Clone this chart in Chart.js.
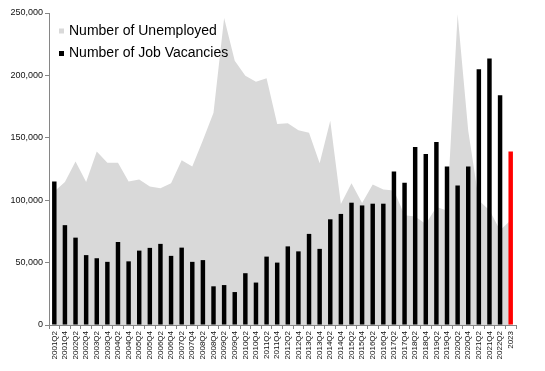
<!DOCTYPE html>
<html>
<head>
    <title>Unemployed and Job Vacancies</title>
    <script src="https://cdn.jsdelivr.net/npm/chart.js"></script>
    <style>
        body { margin: 0; background: #fff; }
    </style>
</head>
<body>
    <canvas id="chart" width="545" height="371"></canvas>

    <script>
        const periods = ['2001Q2', '2001Q4', '2002Q2', '2002Q4', '2003Q2', '2003Q4', '2004Q2', '2004Q4',
            '2005Q2', '2005Q4', '2006Q2', '2006Q4', '2007Q2', '2007Q4', '2008Q2', '2008Q4',
            '2009Q2', '2009Q4', '2010Q2', '2010Q4', '2011Q2', '2011Q4', '2012Q2', '2012Q4',
            '2013Q2', '2013Q4', '2014Q2', '2014Q4', '2015Q2', '2015Q4', '2016Q2', '2016Q4',
            '2017Q2', '2017Q4', '2018Q2', '2018Q4', '2019Q2', '2019Q4', '2020Q2', '2020Q4',
            '2021Q2', '2021Q4', '2022Q2', '2023'];

        const unemployed = [107000, 114500, 131000, 114500, 139000, 130000, 130000, 115000,
            116500, 111000, 109500, 113500, 132000, 127000, 148000, 170000,
            246000, 211700, 199700, 195000, 197800, 161000, 161600, 156000,
            154000, 129600, 163700, 97000, 113600, 97700, 112600, 108600,
            107800, 87900, 87000, 81000, 94500, 91800, 249000, 155700,
            99800, 92000, 75900, 83900];

        const vacancies = [115000, 80000, 70000, 56000, 53500, 50600, 66500, 51000,
            59600, 61800, 65000, 55400, 62000, 50600, 52000, 31000,
            32000, 26400, 41500, 34000, 54800, 50000, 63000, 59000,
            73000, 61000, 84700, 89000, 98000, 95800, 97200, 97200,
            123000, 114000, 142700, 137000, 146700, 127000, 111800, 127000,
            205000, 213500, 184000, 139000];

        const yTicks = [0, 50000, 100000, 150000, 200000, 250000];

        const FONT = '"Liberation Sans", Arial, sans-serif';
        const AXIS = '#868686';

        // last bar (2023) is highlighted in red
        const barColors = periods.map((p, i) => i === periods.length - 1 ? '#ff0000' : '#000000');

        // legend sits inside the plot, top left
        const insideLegend = {
            id: 'insideLegend',
            afterDraw(chart) {
                const ctx = chart.ctx;
                const left = chart.chartArea.left;
                const rows = [
                    { text: chart.data.datasets[0].label, color: '#d9d9d9', y: 31 },
                    { text: chart.data.datasets[1].label, color: '#000000', y: 53.5 }
                ];
                ctx.save();
                ctx.font = '14px ' + FONT;
                ctx.textBaseline = 'middle';
                ctx.fillStyle = '#000';
                rows.forEach(r => {
                    ctx.fillStyle = r.color;
                    ctx.fillRect(left + 10, r.y - 2.5, 5, 5);
                    ctx.fillStyle = '#000';
                    ctx.fillText(r.text, left + 20, r.y);
                });
                ctx.restore();
            }
        };

        const ctx = document.getElementById('chart').getContext('2d');
        const chart = new Chart(ctx, {
            type: 'bar',
            data: {
                labels: periods,
                datasets: [{
                    type: 'line',
                    label: 'Number of Unemployed',
                    data: unemployed,
                    fill: 'origin',
                    backgroundColor: '#d9d9d9',
                    borderWidth: 0,
                    borderColor: 'rgba(0,0,0,0)',
                    pointRadius: 0,
                    tension: 0,
                    order: 2
                }, {
                    label: 'Number of Job Vacancies',
                    data: vacancies,
                    backgroundColor: barColors,
                    barPercentage: 0.42,
                    categoryPercentage: 1,
                    order: 1
                }]
            },
            options: {
                responsive: false,
                animation: false,
                layout: { padding: { top: 13, right: 29, left: 0, bottom: 0 } },
                plugins: {
                    legend: { display: false },
                    tooltip: { enabled: false }
                },
                scales: {
                    x: {
                        offset: true,
                        grid: {
                            offset: true,
                            drawOnChartArea: false,
                            tickLength: 4,
                            color: AXIS
                        },
                        border: { color: AXIS },
                        ticks: {
                            autoSkip: false,
                            minRotation: 90,
                            maxRotation: 90,
                            padding: 2,
                            color: '#111',
                            font: { family: FONT, size: 8 }
                        },
                        afterFit(scale) { scale.height = 46; }
                    },
                    y: {
                        min: yTicks[0],
                        max: yTicks[yTicks.length - 1],
                        grid: {
                            drawOnChartArea: false,
                            tickLength: 4,
                            color: AXIS
                        },
                        border: { color: AXIS },
                        afterBuildTicks(scale) {
                            scale.ticks = yTicks.map(v => ({ value: v }));
                        },
                        ticks: {
                            padding: 2,
                            color: '#111',
                            font: { family: FONT, size: 9 },
                            callback: v => v.toLocaleString('en-US')
                        },
                        afterFit(scale) { scale.width = 49; }
                    }
                }
            },
            plugins: [insideLegend]
        });
    </script>
</body>
</html>
